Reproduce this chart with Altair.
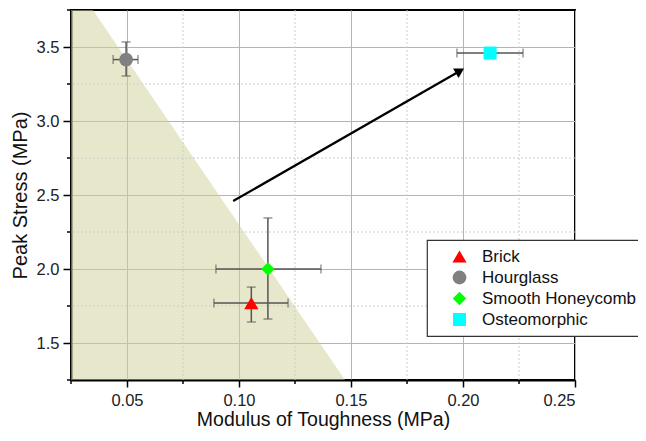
import altair as alt
import pandas as pd

# ---- data ----
series = ["Brick", "Hourglass", "Smooth Honeycomb", "Osteomorphic"]
toughness = [0.1055, 0.0496, 0.1129, 0.2121]
stress = [1.77, 3.415, 2.00, 3.459]
tough_lo = [0.0888, 0.0438, 0.0897, 0.1973]
tough_hi = [0.1219, 0.0549, 0.1366, 0.2268]
stress_lo = [1.642, 3.304, 1.662, 3.449]
stress_hi = [1.878, 3.534, 2.345, 3.469]

colors = ["#ff0000", "#808080", "#00ff00", "#00ffff"]
shapes = ["triangle-up", "circle", "diamond", "square"]
sizes = [200, 170, 250, 95]

# shaded region boundary (toughness, stress)
region_x = [0.025, 0.0348, 0.1473]
region_y = [3.75, 3.75, 1.25]
region_base = 1.25

# arrow (tail, tip)
arrow_x = [0.0974, 0.2006]
arrow_y = [2.459, 3.355]

x_major = [0.05, 0.10, 0.15, 0.20, 0.25]
x_minor = [0.025, 0.075, 0.125, 0.175, 0.225]
x_minor_grid = [0.075, 0.125, 0.175, 0.225]
y_major = [1.5, 2.0, 2.5, 3.0, 3.5]
y_minor = [1.25, 1.75, 2.25, 2.75, 3.25, 3.75]
y_minor_grid = [1.75, 2.25, 2.75, 3.25]
x_domain = [0.025, 0.25]
y_domain = [1.25, 3.75]

FONT = "Liberation Sans"

pts = pd.DataFrame({
    "series": series, "x": toughness, "y": stress,
    "xlo": tough_lo, "xhi": tough_hi, "ylo": stress_lo, "yhi": stress_hi,
})
region = pd.DataFrame({"x": region_x, "y": region_y, "y2": [region_base] * len(region_x)})
xminor_df = pd.DataFrame({"v": x_minor})
yminor_df = pd.DataFrame({"v": y_minor})
xgrid_df = pd.DataFrame({"v": x_minor_grid})
ygrid_df = pd.DataFrame({"v": y_minor_grid})

# arrow head placed a little behind the tip along the arrow direction
hx = arrow_x[1] - 0.025 * (arrow_x[1] - arrow_x[0])
hy = arrow_y[1] - 0.025 * (arrow_y[1] - arrow_y[0])
arrow_line = pd.DataFrame({"x": [arrow_x[0], hx], "y": [arrow_y[0], hy], "o": [0, 1]})
arrow_head = pd.DataFrame({"x": [hx], "y": [hy]})

xs = alt.Scale(domain=x_domain, nice=False, zero=False)
ys = alt.Scale(domain=y_domain, nice=False, zero=False)

x_axis = alt.Axis(
    values=x_major, title="Modulus of Toughness (MPa)", format=".2f",
    grid=True, gridColor="#b4b4b4", gridWidth=1,
    tickSize=7, tickColor="black", tickWidth=1.5,
    domainColor="black", domainWidth=2,
    labelFont=FONT, labelFontSize=16.5, labelColor="#222", labelPadding=5,
    titleFont=FONT, titleFontSize=19.5, titleFontWeight="normal", titleColor="#111",
    titlePadding=2,
)
y_axis = alt.Axis(
    values=y_major, title="Peak Stress (MPa)", format=".1f",
    grid=True, gridColor="#b4b4b4", gridWidth=1,
    tickSize=8, tickColor="black", tickWidth=1.5,
    domainColor="black", domainWidth=2,
    labelFont=FONT, labelFontSize=16.5, labelColor="#222", labelPadding=4,
    titleFont=FONT, titleFontSize=20, titleFontWeight="normal", titleColor="#111",
    titlePadding=6,
)


def X(field):
    return alt.X(field, scale=xs, axis=x_axis)


def Y(field):
    return alt.Y(field, scale=ys, axis=y_axis)


area = alt.Chart(region).mark_area(color="#cfcf9a", opacity=0.5).encode(
    x=X("x:Q"), y=Y("y:Q"), y2="y2:Q",
)

# minor grid (dotted) and minor ticks
xgrid_minor = alt.Chart(xgrid_df).mark_rule(color="#cccccc", strokeDash=[2, 2], strokeWidth=1).encode(
    x=X("v:Q")
)
ygrid_minor = alt.Chart(ygrid_df).mark_rule(color="#cccccc", strokeDash=[2, 2], strokeWidth=1).encode(
    y=Y("v:Q")
)
xtick_minor = alt.Chart(xminor_df).mark_rule(color="black", strokeWidth=1.5).encode(
    x=X("v:Q"), y=alt.value(370), y2=alt.value(374)
)
ytick_minor = alt.Chart(yminor_df).mark_rule(color="black", strokeWidth=1.5).encode(
    y=Y("v:Q"), x=alt.value(-4), x2=alt.value(0)
)

ebar_color = "#555555"
xerr = alt.Chart(pts).mark_rule(color=ebar_color, strokeWidth=1.5).encode(
    x=X("xlo:Q"), x2="xhi:Q", y=Y("y:Q")
)
yerr = alt.Chart(pts).mark_rule(color=ebar_color, strokeWidth=1.5).encode(
    x=X("x:Q"), y=Y("ylo:Q"), y2="yhi:Q"
)
cap_xlo = alt.Chart(pts).mark_tick(color=ebar_color, orient="vertical", size=9, thickness=1.3).encode(
    x=X("xlo:Q"), y=Y("y:Q")
)
cap_xhi = alt.Chart(pts).mark_tick(color=ebar_color, orient="vertical", size=9, thickness=1.3).encode(
    x=X("xhi:Q"), y=Y("y:Q")
)
cap_ylo = alt.Chart(pts).mark_tick(color=ebar_color, orient="horizontal", size=9, thickness=1.3).encode(
    x=X("x:Q"), y=Y("ylo:Q")
)
cap_yhi = alt.Chart(pts).mark_tick(color=ebar_color, orient="horizontal", size=9, thickness=1.3).encode(
    x=X("x:Q"), y=Y("yhi:Q")
)

legend = alt.Legend(
    title=None, orient="none", legendX=356, legendY=230,
    padding=8, strokeColor="#333333", fillColor="white",
    labelFont=FONT, labelFontSize=17, labelColor="#111", labelLimit=400,
    rowPadding=3, symbolOffset=16, labelOffset=14, symbolStrokeWidth=0,
    cornerRadius=0,
)

points = alt.Chart(pts).mark_point(filled=True, opacity=1, strokeWidth=0).encode(
    x=X("x:Q"),
    y=Y("y:Q"),
    color=alt.Color("series:N", scale=alt.Scale(domain=series, range=colors), legend=legend),
    shape=alt.Shape("series:N", scale=alt.Scale(domain=series, range=shapes), legend=legend),
    size=alt.Size("series:N", scale=alt.Scale(domain=series, range=sizes), legend=None),
)

arrow = alt.Chart(arrow_line).mark_line(color="black", strokeWidth=2.2).encode(
    x=X("x:Q"), y=Y("y:Q"), order="o:Q"
)
head = alt.Chart(arrow_head).mark_point(
    shape="triangle", filled=True, color="black", opacity=1, size=120, angle=60, strokeWidth=0
).encode(x=X("x:Q"), y=Y("y:Q"))

chart = alt.layer(
    area, xgrid_minor, ygrid_minor, xtick_minor, ytick_minor,
    xerr, yerr, cap_xlo, cap_xhi, cap_ylo, cap_yhi, arrow, head, points
).properties(
    width=504, height=370,
    background="white",
    padding={"left": 63, "top": 2, "right": 63, "bottom": 53},
    autosize=alt.AutoSizeParams(type="none"),
).configure_view(
    stroke="black", strokeWidth=2
).configure_legend(
    strokeWidth=1.2
)

chart.save("out.html", embed_options={"renderer": "svg", "actions": False})
